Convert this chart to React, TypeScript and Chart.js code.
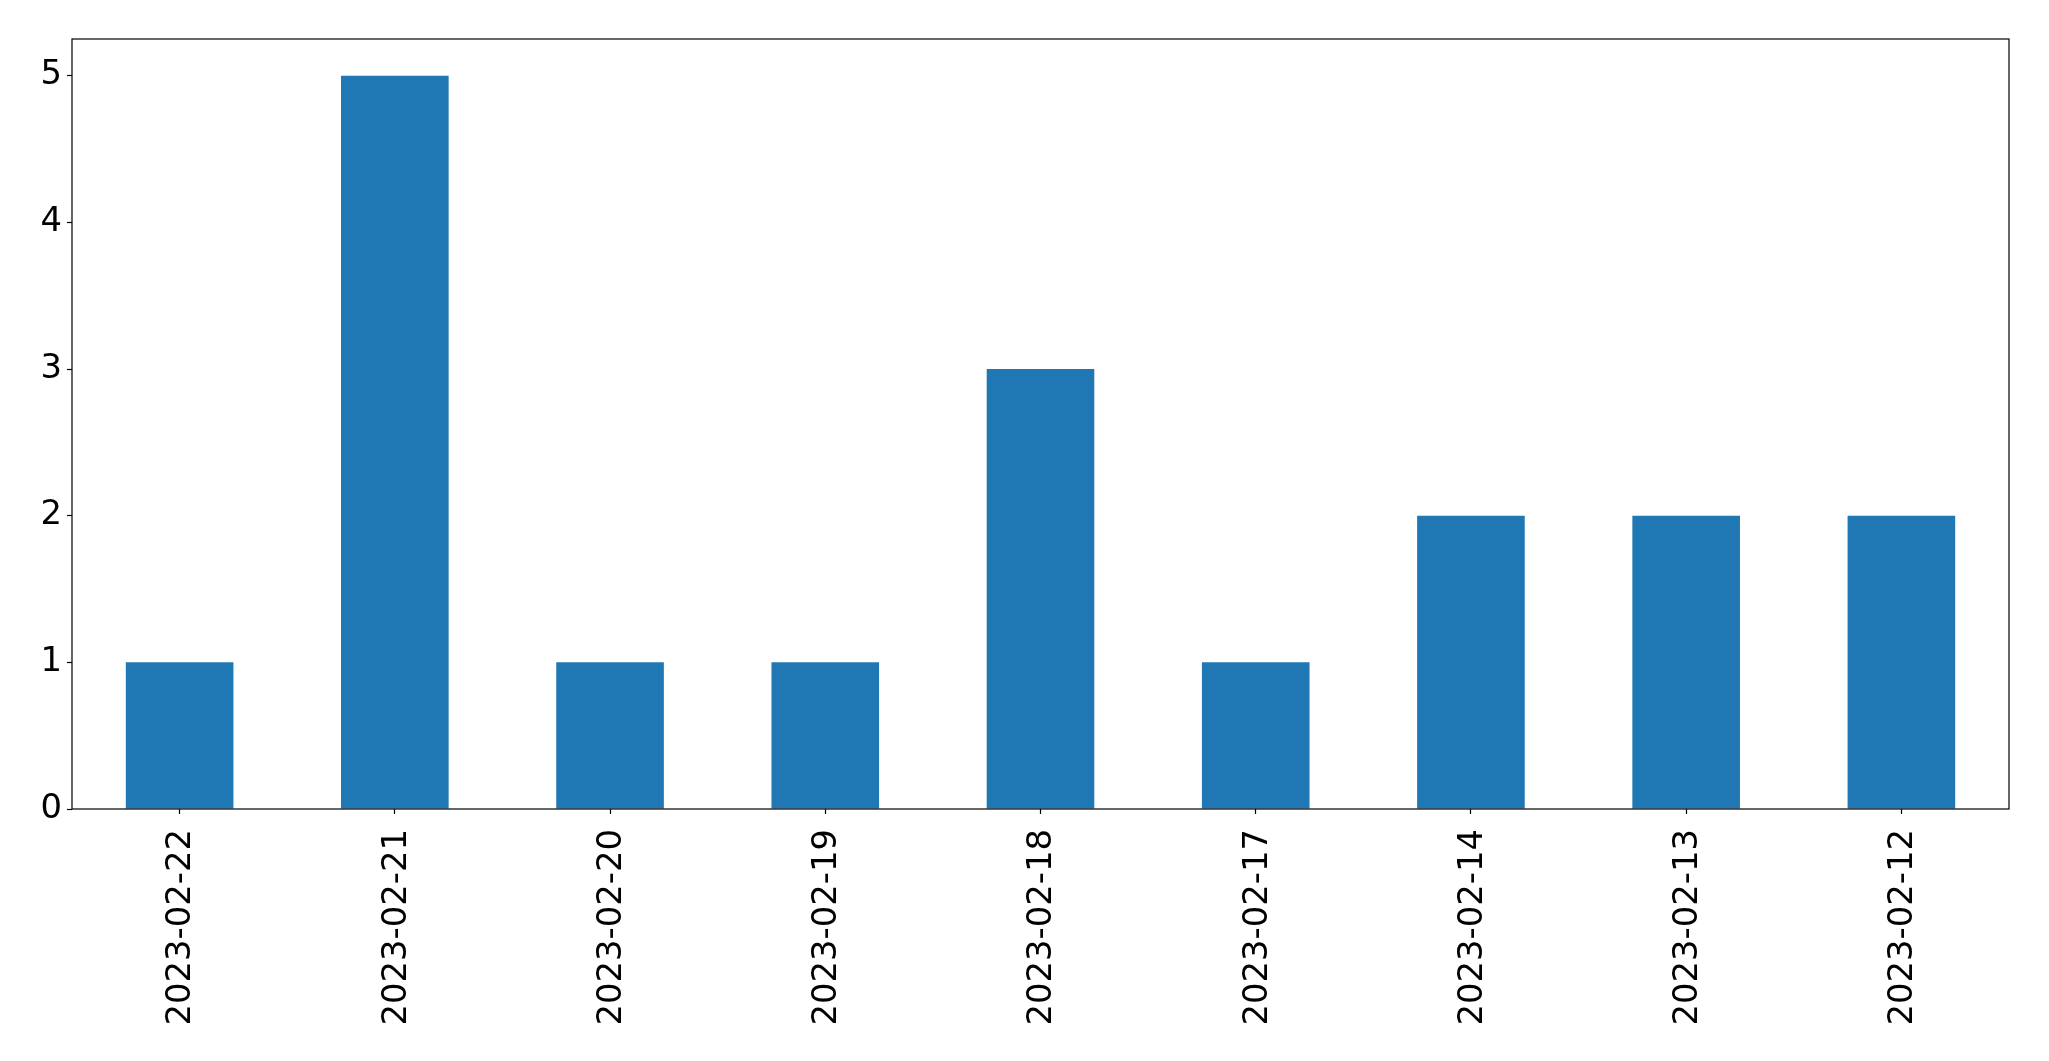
import React, { useEffect, useRef } from "react";
import { Chart, registerables } from "chart.js";

Chart.register(...registerables);

const categories = [
  "2023-02-22",
  "2023-02-21",
  "2023-02-20",
  "2023-02-19",
  "2023-02-18",
  "2023-02-17",
  "2023-02-14",
  "2023-02-13",
  "2023-02-12",
];
const values = [1, 5, 1, 1, 3, 1, 2, 2, 2];
const yTicks = [0, 1, 2, 3, 4, 5];

const W = 2049;
const H = 1061;

const frame = {
  id: "frame",
  afterDraw(chart: any) {
    const { ctx, chartArea } = chart;
    ctx.save();
    ctx.strokeStyle = "#000";
    ctx.lineWidth = 1.2;
    ctx.strokeRect(chartArea.left, chartArea.top, chartArea.right - chartArea.left, chartArea.bottom - chartArea.top);
    ctx.restore();
  },
};

export default function App() {
  const ref = useRef<HTMLCanvasElement | null>(null);
  useEffect(() => {
    document.body.style.margin = "0";
    const font = { family: "'DejaVu Sans', sans-serif", size: 33.8 };
    const chart = new Chart(ref.current as HTMLCanvasElement, {
      type: "bar",
      data: {
        labels: categories,
        datasets: [
          {
            data: values,
            backgroundColor: "#1f77b4",
            barPercentage: 0.5,
            categoryPercentage: 1,
          },
        ],
      },
      options: {
        responsive: false,
        animation: false,
        devicePixelRatio: 1,
        layout: { padding: { top: 39, right: 40, left: 0, bottom: 0 } },
        plugins: { legend: { display: false }, tooltip: { enabled: false } },
        scales: {
          x: {
            offset: true,
            grid: {
              display: true,
              offset: false,
              drawOnChartArea: false,
              drawTicks: true,
              tickLength: 5,
              tickColor: "#000",
              tickWidth: 1.2,
            },
            border: { display: false },
            ticks: {
              color: "#000",
              font,
              minRotation: 90,
              maxRotation: 90,
              padding: 15,
              labelOffset: 2,
              autoSkip: false,
            },
            afterFit(scale: any) {
              scale.height = H - 809;
            },
          },
          y: {
            min: 0,
            max: 5.25,
            grid: {
              display: true,
              drawOnChartArea: false,
              drawTicks: true,
              tickLength: 5,
              tickColor: "#000",
              tickWidth: 1.2,
            },
            border: { display: false },
            ticks: { color: "#000", font, stepSize: 1, padding: 5 },
            afterBuildTicks(scale: any) {
              scale.ticks = yTicks.map((v) => ({ value: v }));
            },
            afterFit(scale: any) {
              scale.width = 72;
            },
          },
        },
      },
      plugins: [frame],
    });
    return () => chart.destroy();
  }, []);
  return (
    <div style={{ position: "absolute", left: 0, top: 0, width: W, height: H, background: "#fff" }}>
      <canvas ref={ref} width={W} height={H} style={{ width: W, height: H, display: "block" }} />
    </div>
  );
}
